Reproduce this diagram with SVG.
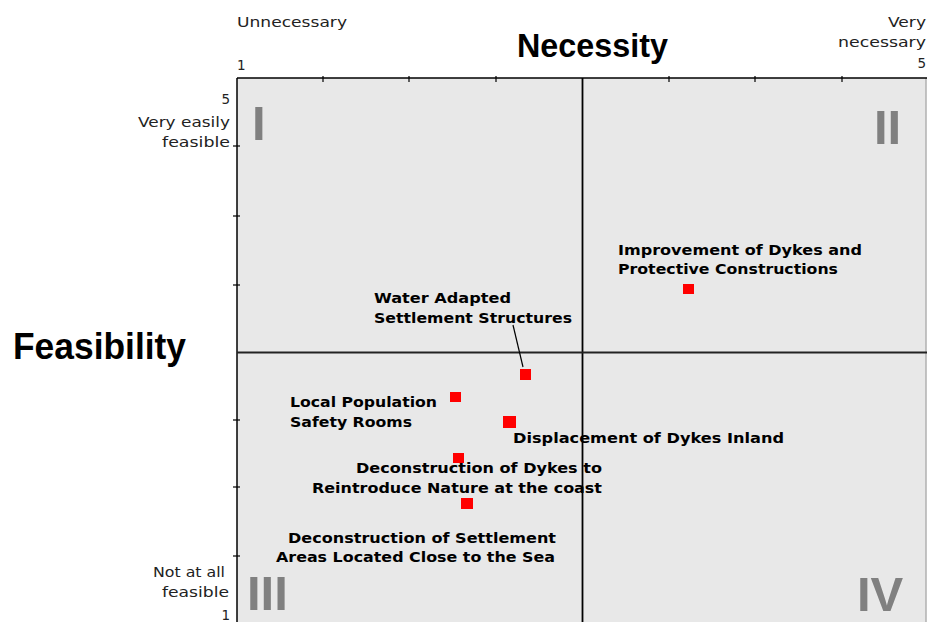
<svg xmlns="http://www.w3.org/2000/svg" width="927" height="622" viewBox="0 0 927 622">
<style>
.ax{font-family:"DejaVu Sans","Liberation Sans",sans-serif;font-size:13.5px;fill:#222}
.title{font-family:"Liberation Sans",Arial,sans-serif;font-weight:bold;fill:#000}
.roman{font-family:"Liberation Sans",Arial,sans-serif;font-weight:bold;font-size:49px;fill:#808080}
.lbl{font-family:"DejaVu Sans","Liberation Sans",sans-serif;font-weight:bold;font-size:14px;fill:#000}
.pt{fill:#ff0000}
.tick{stroke:#000;stroke-width:1.2}
</style>
<rect width="927" height="622" fill="#ffffff"/>
<g id="plot">
<rect x="237" y="78" width="689" height="560" fill="#e8e8e8"/>
<line x1="926" y1="78" x2="926" y2="622" stroke="#b0b0b0" stroke-width="1.5"/>
<line x1="237" y1="78" x2="927" y2="78" stroke="#000" stroke-width="1.5"/>
<line x1="237" y1="78" x2="237" y2="622" stroke="#000" stroke-width="1.5"/>
<g class="tick">
<line x1="323" y1="76" x2="323" y2="82"/><line x1="409" y1="76" x2="409" y2="82"/><line x1="496" y1="76" x2="496" y2="82"/>
<line x1="669" y1="76" x2="669" y2="82"/><line x1="755" y1="76" x2="755" y2="82"/><line x1="842" y1="76" x2="842" y2="82"/>
<line x1="233" y1="146" x2="240" y2="146"/><line x1="233" y1="216" x2="240" y2="216"/><line x1="233" y1="285" x2="240" y2="285"/>
<line x1="233" y1="420" x2="240" y2="420"/><line x1="233" y1="487" x2="240" y2="487"/><line x1="233" y1="556" x2="240" y2="556"/>
</g>
<line x1="582.5" y1="78" x2="582.5" y2="622" stroke="#000" stroke-width="1.8"/>
<line x1="237" y1="352.5" x2="927" y2="352.5" stroke="#222" stroke-width="1.8"/>
<text class="roman" x="252" y="140">I</text>
<text class="roman" x="874" y="144">II</text>
<text class="roman" x="247" y="610">III</text>
<text class="roman" x="857" y="611">IV</text>
</g>
<g id="axis-labels">
<text class="ax" x="237" y="27" textLength="110" lengthAdjust="spacingAndGlyphs">Unnecessary</text>
<text class="ax" x="237" y="70">1</text>
<text class="ax" x="888" y="27" textLength="38" lengthAdjust="spacingAndGlyphs">Very</text>
<text class="ax" x="838" y="47" textLength="88" lengthAdjust="spacingAndGlyphs">necessary</text>
<text class="ax" x="926" y="68" text-anchor="end">5</text>
<text class="ax" x="230" y="104" text-anchor="end">5</text>
<text class="ax" x="138" y="127" textLength="92" lengthAdjust="spacingAndGlyphs">Very easily</text>
<text class="ax" x="162" y="147" textLength="68" lengthAdjust="spacingAndGlyphs">feasible</text>
<text class="ax" x="153" y="577" textLength="72" lengthAdjust="spacingAndGlyphs">Not at all</text>
<text class="ax" x="162" y="597" textLength="67" lengthAdjust="spacingAndGlyphs">feasible</text>
<text class="ax" x="230" y="620" text-anchor="end">1</text>
<text class="title" x="517" y="57" font-size="33" textLength="151" lengthAdjust="spacingAndGlyphs">Necessity</text>
<text class="title" x="13" y="359" font-size="36" textLength="173" lengthAdjust="spacingAndGlyphs">Feasibility</text>
</g>
<g id="connectors">
<line x1="513" y1="325" x2="523" y2="367" stroke="#000" stroke-width="1.2"/>
</g>
<g id="n-improvement">
<rect class="pt" x="683" y="284" width="11" height="10"/>
<text class="lbl" x="618" y="255" textLength="244" lengthAdjust="spacingAndGlyphs">Improvement of Dykes and</text>
<text class="lbl" x="618" y="274" textLength="220" lengthAdjust="spacingAndGlyphs">Protective Constructions</text>
</g>
<g id="n-water">
<rect class="pt" x="520" y="369" width="11" height="11"/>
<text class="lbl" x="374" y="303" textLength="137" lengthAdjust="spacingAndGlyphs">Water Adapted</text>
<text class="lbl" x="374" y="323" textLength="198" lengthAdjust="spacingAndGlyphs">Settlement Structures</text>
</g>
<g id="n-local">
<rect class="pt" x="450" y="392" width="11" height="10"/>
<text class="lbl" x="290" y="407" textLength="147" lengthAdjust="spacingAndGlyphs">Local Population</text>
<text class="lbl" x="290" y="427" textLength="122" lengthAdjust="spacingAndGlyphs">Safety Rooms</text>
</g>
<g id="n-displacement">
<rect class="pt" x="503" y="416" width="13" height="12"/>
<text class="lbl" x="513" y="443" textLength="271" lengthAdjust="spacingAndGlyphs">Displacement of Dykes Inland</text>
</g>
<g id="n-decon-dykes">
<rect class="pt" x="453" y="453" width="11" height="10"/>
<text class="lbl" x="356" y="473" textLength="246" lengthAdjust="spacingAndGlyphs">Deconstruction of Dykes to</text>
<text class="lbl" x="312" y="493" textLength="290" lengthAdjust="spacingAndGlyphs">Reintroduce Nature at the coast</text>
</g>
<g id="n-decon-settlement">
<rect class="pt" x="461" y="498" width="12" height="11"/>
<text class="lbl" x="288" y="543" textLength="268" lengthAdjust="spacingAndGlyphs">Deconstruction of Settlement</text>
<text class="lbl" x="276" y="562" textLength="279" lengthAdjust="spacingAndGlyphs">Areas Located Close to the Sea</text>
</g>
</svg>
